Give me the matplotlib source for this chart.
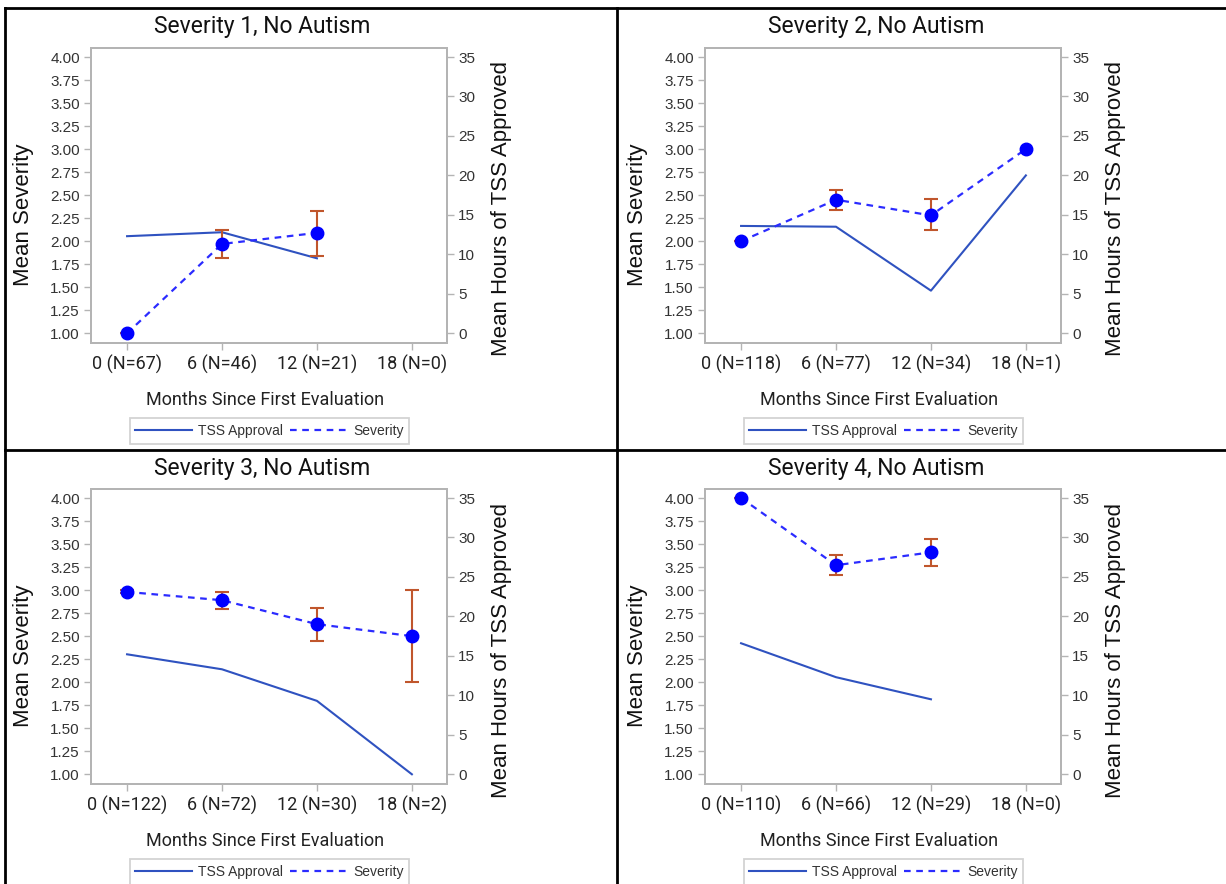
import numpy as np
import matplotlib
matplotlib.use('Agg')
import matplotlib.pyplot as plt
from matplotlib.lines import Line2D

nan = np.nan

titles = ['Severity 1, No Autism', 'Severity 2, No Autism',
          'Severity 3, No Autism', 'Severity 4, No Autism']
xticklabels = [['0 (N=67)', '6 (N=46)', '12 (N=21)', '18 (N=0)'],
               ['0 (N=118)', '6 (N=77)', '12 (N=34)', '18 (N=1)'],
               ['0 (N=122)', '6 (N=72)', '12 (N=30)', '18 (N=2)'],
               ['0 (N=110)', '6 (N=66)', '12 (N=29)', '18 (N=0)']]
# mean hours of TSS approved (right axis)
tss = [[12.3, 12.8, 9.5, nan],
       [13.6, 13.5, 5.4, 20.0],
       [15.2, 13.3, 9.3, 0.0],
       [16.6, 12.3, 9.5, nan]]
# mean severity (left axis) with error bar ends
sev = [[1.00, 1.97, 2.09, nan],
       [2.00, 2.45, 2.28, 3.00],
       [2.98, 2.89, 2.63, 2.50],
       [4.00, 3.27, 3.41, nan]]
sev_lo = [[1.00, 1.82, 1.84, nan],
          [2.00, 2.34, 2.12, nan],
          [2.97, 2.80, 2.45, 2.00],
          [4.00, 3.16, 3.26, nan]]
sev_hi = [[1.00, 2.12, 2.33, nan],
          [2.00, 2.56, 2.46, nan],
          [3.00, 2.98, 2.81, 3.00],
          [4.00, 3.38, 3.56, nan]]

W, H = 1226, 884
narrow = ['Roboto', 'DejaVu Sans']
arial = ['Liberation Sans', 'DejaVu Sans']
gry = '#b4b4b4'
c_tss = '#2f52c0'
c_sev = '#2b2bff'
c_err = '#c0562c'

fig = plt.figure(figsize=(W/100, H/100), dpi=100)

def fx(px):
    return px/W

def fy(py):
    return 1 - py/H

offsets = [(0, 0), (614, 0), (0, 441), (614, 441)]

for k in range(4):
    dx, dy = offsets[k]
    l, r, t, b = 91+dx, 447+dx, 47.7+dy, 343.3+dy
    ax = fig.add_axes([fx(l), fy(b), fx(r-l), (b-t)/H])
    ax2 = ax.twinx()
    x = np.arange(4)
    s = np.array(sev[k]); lo = np.array(sev_lo[k]); hi = np.array(sev_hi[k])
    h = np.array(tss[k])

    ok = ~np.isnan(h)
    ax2.plot(x[ok], h[ok], color=c_tss, lw=1.5, zorder=2)

    ok = ~np.isnan(lo)
    ax.errorbar(x[ok], s[ok], yerr=[s[ok]-lo[ok], hi[ok]-s[ok]], fmt='none',
                ecolor=c_err, elinewidth=1.5, capsize=5, capthick=1.5, zorder=3)
    ok = ~np.isnan(s)
    ax.plot(x[ok], s[ok], color=c_sev, ls=(0, (3, 2.5)), lw=1.6, zorder=4)
    ax.plot(x[ok], s[ok], 'o', color='#0000ff', ms=9, zorder=5)
    ax.set_zorder(ax2.get_zorder()+1)
    ax.patch.set_visible(False)

    ax.set_xlim(-0.38, 3.37)
    ax.set_ylim(0.891, 4.101)
    ax2.set_ylim(-1.27, 36.18)
    ax.set_xticks(x)
    ax.set_xticklabels(xticklabels[k], family=narrow, fontsize=13, color='#222222')
    ax.set_yticks(np.arange(1, 4.01, 0.25))
    ax.set_yticklabels(['%.2f' % v for v in np.arange(1, 4.01, 0.25)],
                       family=arial, fontsize=11, color='#333333')
    ax2.set_yticks(np.arange(0, 36, 5))
    ax2.set_yticklabels([str(v) for v in range(0, 36, 5)], family=arial,
                        fontsize=11, color='#333333')
    for a in (ax, ax2):
        for sp in a.spines.values():
            sp.set_color(gry)
            sp.set_linewidth(1.3)
    ax.tick_params(axis='both', direction='out', length=5, width=1, color=gry, pad=3)
    ax2.tick_params(axis='y', direction='out', length=5, width=1, color=gry, pad=3)

    fig.text(fx(262+dx), fy(27+dy), titles[k], family=narrow, fontsize=16.5,
             ha='center', va='center', color='#111111')
    fig.text(fx(265+dx), fy(400+dy), 'Months Since First Evaluation', family=narrow,
             fontsize=13, ha='center', va='center', color='#222222')
    fig.text(fx(23+dx), fy(215+dy), 'Mean Severity', family=arial, fontsize=16,
             rotation=90, ha='center', va='center', color='#111111')
    fig.text(fx(502+dx), fy(209+dy), 'Mean Hours of TSS Approved', family=arial,
             fontsize=16, rotation=90, ha='center', va='center', color='#111111')

    hs = [Line2D([], [], color=c_tss, lw=1.5),
          Line2D([], [], color=c_sev, lw=1.6, ls=(0, (3, 2.5)))]
    leg = fig.legend(hs, ['TSS Approval', 'Severity'], loc='center',
                     bbox_to_anchor=(fx(269.5+dx), fy(431+dy)), ncol=2,
                     frameon=True, fancybox=False, edgecolor='#c8c8c8',
                     handlelength=4.1, columnspacing=0.5, handletextpad=0.45,
                     borderpad=0.4, borderaxespad=0,
                     prop={'family': arial, 'size': 10})
    leg.get_frame().set_linewidth(1.3)
    for txt in leg.get_texts():
        txt.set_color('#333333')

# panel border lines
lw = 2
fig.add_artist(Line2D([fx(5), fx(5)], [fy(8), 0], color='k', lw=lw))
fig.add_artist(Line2D([fx(5), 1], [fy(8), fy(8)], color='k', lw=lw))
fig.add_artist(Line2D([fx(617), fx(617)], [fy(8), 0], color='k', lw=lw))
fig.add_artist(Line2D([fx(5), 1], [fy(450), fy(450)], color='k', lw=lw))

fig.savefig('out.png', dpi=100)
